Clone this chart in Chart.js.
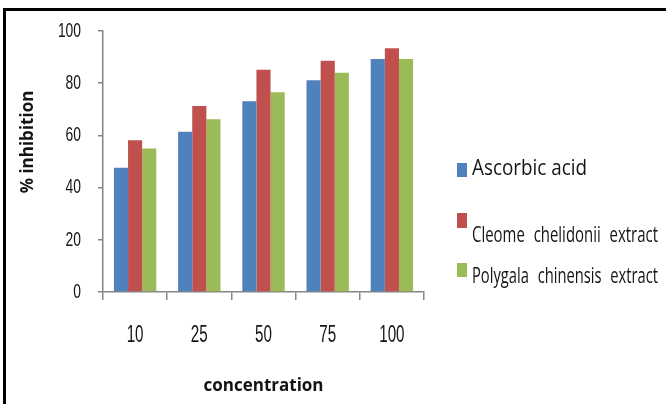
<!DOCTYPE html>
<html>
<head>
<meta charset="utf-8">
<script src="https://cdn.jsdelivr.net/npm/chart.js@4/dist/chart.umd.min.js"></script>
<style>
  html, body { margin: 0; padding: 0; background: #ffffff; }
  canvas { display: block; }
</style>
</head>
<body>
<canvas id="chart" width="666" height="404"></canvas>
<script>
// Concentration levels (x categories)
const categories = ['10', '25', '50', '75', '100'];

// % inhibition for each sample
const ascorbicAcid      = [47.6, 61.4, 73.1, 81.1, 89.3];
const cleomeChelidonii  = [58.1, 71.3, 85.2, 88.6, 93.4];
const polygalaChinensis = [55.0, 66.2, 76.5, 84.0, 89.3];

// Series names and y-axis tick values
const seriesNames = ['Ascorbic acid', 'Cleome chelidonii extract', 'Polygala chinensis extract'];
const yTickValues = [0, 20, 40, 60, 80, 100];

const seriesColors = ['#4F81BD', '#C0504D', '#9BBB59'];
const boldFont = '"Open Sans", "Noto Sans", sans-serif';
const legendFont = '"Open Sans", "Noto Sans", sans-serif';
const tickFont = '"Liberation Sans", Arial, sans-serif';
const tickSqueeze = 0.66;
const axisGrey = '#868686';
const textColor = '#141414';

// Outer frame (top and left edges of the figure box)
const framePlugin = {
  id: 'frame',
  afterDraw(chart) {
    const ctx = chart.ctx;
    ctx.save();
    ctx.strokeStyle = '#000000';
    ctx.lineWidth = 3;
    ctx.beginPath();
    ctx.moveTo(4.5, chart.height);
    ctx.lineTo(4.5, 9.5);
    ctx.lineTo(chart.width, 9.5);
    ctx.stroke();
    ctx.restore();
  }
};

// Tick labels use tall, narrow lettering: each label is squeezed
// horizontally around its own anchor while the axis draws it.
const narrowTicksPlugin = {
  id: 'narrowTicks',
  beforeDraw(chart) {
    Object.values(chart.scales).forEach(scale => {
      if (scale.$narrow) return;
      const drawLabels = scale.drawLabels;
      scale.drawLabels = function (area) {
        const ctx = this.ctx;
        const fill = CanvasRenderingContext2D.prototype.fillText;
        ctx.fillText = function (text, x, y) {
          this.save();
          this.scale(tickSqueeze, 1);
          fill.call(this, text, x / tickSqueeze, y);
          this.restore();
        };
        try {
          drawLabels.call(this, area);
        } finally {
          delete ctx.fillText;
        }
      };
      scale.$narrow = true;
    });
  }
};

// Rotated y-axis caption
const yCaptionPlugin = {
  id: 'yCaption',
  afterDraw(chart) {
    const ctx = chart.ctx;
    ctx.save();
    ctx.translate(28, 142);
    ctx.rotate(-Math.PI / 2);
    ctx.font = 'bold 17px ' + boldFont;
    ctx.fillStyle = textColor;
    ctx.textAlign = 'center';
    ctx.textBaseline = 'middle';
    ctx.fillText('% inhibition', 0, 0);
    ctx.restore();
  }
};

// Legend on the right, built from the datasets; each label is squeezed
// horizontally to its own width so the narrow lettering is kept.
const sideLegendPlugin = {
  id: 'sideLegend',
  afterDraw(chart) {
    const ctx = chart.ctx;
    const rows = [
      { boxTop: 163, boxH: 14, baseline: 175, size: 21, width: 115, gap: '0px' },
      { boxTop: 213, boxH: 15, baseline: 242, size: 21, width: 186, gap: '7px' },
      { boxTop: 263, boxH: 14, baseline: 283, size: 21, width: 186, gap: '7px' }
    ];
    ctx.save();
    chart.data.datasets.forEach((ds, i) => {
      const r = rows[i];
      ctx.fillStyle = ds.backgroundColor;
      ctx.fillRect(457, r.boxTop, 10, r.boxH);
      ctx.font = r.size + 'px ' + legendFont;
      if ('wordSpacing' in ctx) ctx.wordSpacing = r.gap;
      ctx.fillStyle = textColor;
      ctx.textAlign = 'left';
      ctx.textBaseline = 'alphabetic';
      const w = ctx.measureText(ds.label).width;
      const sx = r.width / w;
      ctx.save();
      ctx.translate(472, r.baseline);
      ctx.scale(sx, 1);
      ctx.fillText(ds.label, 0, 0);
      ctx.restore();
    });
    ctx.restore();
  }
};

const datasets = [ascorbicAcid, cleomeChelidonii, polygalaChinensis].map((values, i) => ({
  label: seriesNames[i],
  data: values,
  backgroundColor: seriesColors[i],
  borderWidth: 0,
  categoryPercentage: 0.66,
  barPercentage: 1.0
}));

new Chart(document.getElementById('chart'), {
  type: 'bar',
  data: { labels: categories, datasets },
  options: {
    responsive: false,
    animation: false,
    layout: { padding: { left: 0, top: 31, right: 242, bottom: 0 } },
    plugins: {
      legend: { display: false },
      tooltip: { enabled: false }
    },
    scales: {
      x: {
        afterFit(scale) { scale.height = 112; },
        grid: {
          display: true,
          drawOnChartArea: false,
          drawTicks: true,
          tickLength: 8,
          color: axisGrey,
          lineWidth: 1.5,
          offset: true
        },
        border: { display: true, color: axisGrey, width: 1.5 },
        ticks: {
          color: textColor,
          padding: 22,
          font: { family: tickFont, size: 23 }
        },
        title: {
          display: true,
          text: 'concentration',
          color: textColor,
          font: { family: boldFont, size: 17, weight: 'bold' },
          padding: { top: 0, bottom: 8 }
        }
      },
      y: {
        min: 0,
        max: 100,
        afterFit(scale) { scale.width = 103; },
        afterBuildTicks(scale) { scale.ticks = yTickValues.map(v => ({ value: v })); },
        grid: {
          display: true,
          drawOnChartArea: false,
          drawTicks: true,
          tickLength: 5,
          color: axisGrey,
          lineWidth: 1.5
        },
        border: { display: true, color: axisGrey, width: 1.5 },
        ticks: {
          color: textColor,
          padding: 17,
          font: { family: tickFont, size: 21 }
        }
      }
    }
  },
  plugins: [framePlugin, narrowTicksPlugin, yCaptionPlugin, sideLegendPlugin]
});
</script>
</body>
</html>
